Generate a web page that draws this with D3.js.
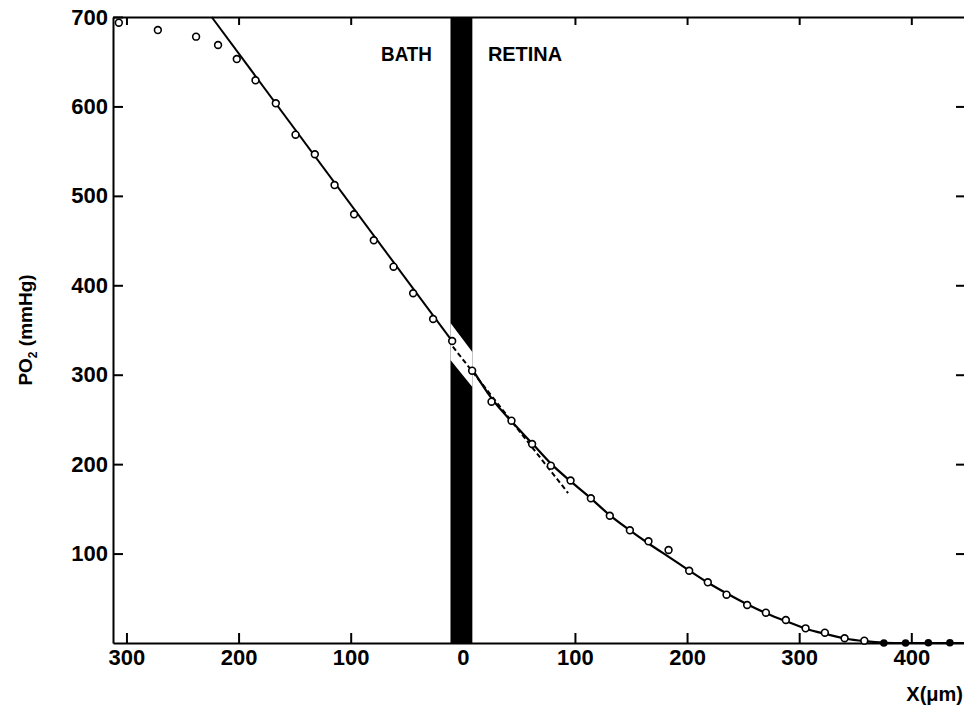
<!DOCTYPE html>
<html>
<head>
<meta charset="utf-8">
<script src="https://cdn.jsdelivr.net/npm/d3@7"></script>
<style>
  html, body { margin: 0; padding: 0; background: #fff; }
  svg { display: block; }
  text { font-family: "Liberation Sans", Arial, sans-serif; font-weight: bold; fill: #000; }
</style>
</head>
<body>
<svg id="chart" width="964" height="708"></svg>
<script>
// ---- data ----
const xTicks = [-300, -200, -100, 0, 100, 200, 300, 400];
const yTicks = [100, 200, 300, 400, 500, 600, 700];

// open circles in the bath
const bathX = [-306.8, -272, -237.9, -218.3, -201.6, -184.9, -166.8, -149.2, -132, -114.4, -97, -79.4, -61.8, -44.3, -26.5, -9.5];
const bathY = [693.6, 685.4, 678, 668.7, 653, 629.2, 603.5, 568.4, 546.5, 512.1, 479.4, 450.3, 420.8, 391.1, 362.3, 337.7];

// open circles in the retina
const retX = [8.3, 25.6, 43.4, 61.8, 78.5, 96.1, 114.2, 131.1, 149, 165.6, 183.5, 201.9, 218.5, 235.2, 253.6, 270.3, 288.1, 305.7, 322.9, 340.5, 358.1];
const retY = [304.5, 269.8, 248.6, 222.5, 198.3, 181.7, 161.8, 142.3, 126, 113.7, 104, 80.8, 67.9, 54, 42.5, 33.9, 25.7, 16.4, 11.5, 5.3, 2.6];

// filled circles at zero
const zeroX = [375.5, 394.9, 415.2, 434.4];
const zeroY = [0, 0, 0.3, 0.3];

// straight fit line in the bath
const bathLineX = [-224, -11];
const bathLineY = [700, 340];

// fitted curve in the retina
const curveX = [8.5, 26, 44, 62, 79, 96, 114, 131, 149, 166, 184, 202, 218, 236, 254, 271, 289, 306, 324, 341, 358, 375, 395, 447];
const curveY = [306, 273, 247, 223, 200, 181, 162, 143, 126, 111, 96, 81, 68, 55, 43, 33, 24, 16, 10, 5, 2, 0.3, 0, 0];

// dashed tangent line
const tangentX = [-8.9, 93.9];
const tangentY = [331.3, 167.7];

// black band (bath / retina boundary) with white diagonal gap
const bandX = [-11, 8.5];
const gapUpperY = [357.8, 325.4];
const gapLowerY = [316.4, 286.3];

// ---- drawing ----
const svg = d3.select("#chart");
const x = d3.scaleLinear().domain([-312, 447]).range([113, 964]);
const y = d3.scaleLinear().domain([0, 700]).range([643, 17]);

// band
svg.append("rect")
  .attr("x", x(bandX[0])).attr("y", y(700))
  .attr("width", x(bandX[1]) - x(bandX[0]))
  .attr("height", y(0) - y(700))
  .attr("fill", "#000");
svg.append("polygon")
  .attr("points", [
    [x(bandX[0]), y(gapUpperY[0])], [x(bandX[1]), y(gapUpperY[1])],
    [x(bandX[1]), y(gapLowerY[1])], [x(bandX[0]), y(gapLowerY[0])]
  ].map(p => p.join(",")).join(" "))
  .attr("fill", "#fff");

// axes
const gx = svg.append("g").attr("transform", `translate(0,${y(0)})`)
  .call(d3.axisBottom(x).tickValues(xTicks).tickSize(-10).tickSizeOuter(0).tickPadding(6)
    .tickFormat(d => Math.abs(d)));
const gxt = svg.append("g").attr("transform", `translate(0,${y(700)})`)
  .call(d3.axisTop(x).tickValues(xTicks).tickSize(-8).tickSizeOuter(0).tickFormat(""));
const gy = svg.append("g").attr("transform", `translate(${x(-312)},0)`)
  .call(d3.axisLeft(y).tickValues(yTicks).tickSize(-10).tickSizeOuter(0).tickPadding(5));
const gyr = svg.append("g").attr("transform", `translate(${x(447)},0)`)
  .call(d3.axisRight(y).tickValues(yTicks.slice(0, 6)).tickSize(-8).tickSizeOuter(0).tickFormat(""));
gyr.select(".domain").remove();

[gx, gxt, gy, gyr].forEach(g => {
  g.selectAll("path, line").attr("stroke", "#000").attr("stroke-width", 2);
  g.selectAll("text").style("font-size", "22px").style("font-weight", "bold")
    .style("font-family", "'Liberation Sans', Arial, sans-serif").attr("fill", "#000");
});

// lines
const lineGen = d3.line().x(d => x(d[0])).y(d => y(d[1]));
svg.append("path")
  .attr("d", lineGen(bathLineX.map((v, i) => [v, bathLineY[i]])))
  .attr("fill", "none").attr("stroke", "#000").attr("stroke-width", 2);
svg.append("path")
  .attr("d", d3.line().x(d => x(d[0])).y(d => y(d[1])).curve(d3.curveMonotoneX)(curveX.map((v, i) => [v, curveY[i]])))
  .attr("fill", "none").attr("stroke", "#000").attr("stroke-width", 2.2);
svg.append("path")
  .attr("d", lineGen(tangentX.map((v, i) => [v, tangentY[i]])))
  .attr("fill", "none").attr("stroke", "#000").attr("stroke-width", 2)
  .attr("stroke-dasharray", "5,3");

// points
svg.append("g").selectAll("circle")
  .data(bathX.map((v, i) => [v, bathY[i]]).concat(retX.map((v, i) => [v, retY[i]])))
  .join("circle")
  .attr("cx", d => x(d[0])).attr("cy", d => y(d[1])).attr("r", 3.4)
  .attr("fill", "#fff").attr("stroke", "#000").attr("stroke-width", 1.6);
svg.append("g").selectAll("circle")
  .data(zeroX.map((v, i) => [v, zeroY[i]]))
  .join("circle")
  .attr("cx", d => x(d[0])).attr("cy", d => y(d[1])).attr("r", 3.8)
  .attr("fill", "#000");

// region labels
svg.append("text").attr("x", 381).attr("y", 61).text("BATH")
  .style("font-size", "20px").attr("textLength", 51).attr("lengthAdjust", "spacingAndGlyphs");
svg.append("text").attr("x", 488).attr("y", 61).text("RETINA")
  .style("font-size", "20px").attr("textLength", 74).attr("lengthAdjust", "spacingAndGlyphs");

// axis titles
const yt = svg.append("text")
  .attr("transform", "translate(32,330) rotate(-90)")
  .attr("text-anchor", "middle")
  .style("font-size", "19px");
yt.append("tspan").text("PO");
yt.append("tspan").attr("dy", 5).style("font-size", "12px").text("2");
yt.append("tspan").attr("dy", -5).text(" (mmHg)");

svg.append("text").attr("x", 963).attr("y", 701).attr("text-anchor", "end")
  .style("font-size", "20px").text("X(μm)");
</script>
</body>
</html>
